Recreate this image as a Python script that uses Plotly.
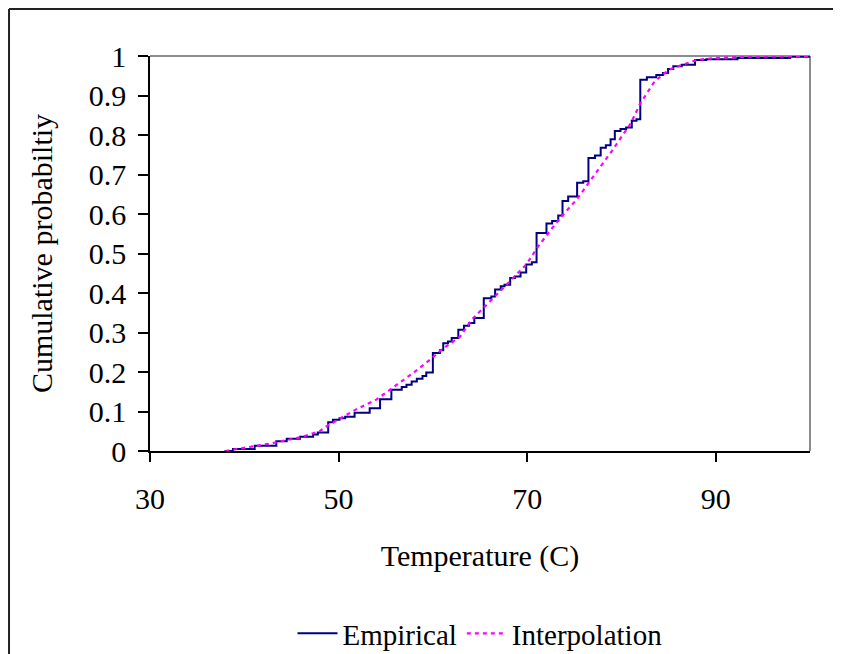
import plotly.graph_objects as go

# Empirical CDF step points (temperature where the step occurs, new level)
emp_temp = [37.9, 38.8, 41.1, 43.4, 44.5, 45.9, 47.3, 47.8, 48.9, 49.4,
            50.1, 50.7, 51.7, 53.3, 54.4, 55.6, 56.7, 57.2, 57.75, 58.3,
            58.9, 59.3, 60.0, 60.75, 61.1, 61.6, 62.0, 62.7, 63.3, 63.85,
            64.4, 65.4, 66.2, 66.6, 67.2, 67.6, 68.2, 68.7, 69.3, 69.9,
            70.5, 71.0, 72.05, 72.65, 73.3, 73.75, 74.35, 75.3, 75.95, 76.5,
            77.2, 77.8, 78.35, 78.85, 79.3, 79.9, 80.5, 81.1, 81.6, 82.0,
            82.7, 83.7, 84.4, 84.95, 85.5, 86.4, 87.8, 89.0, 92.3, 97.9,
            100.0]
emp_prob = [0.0, 0.005, 0.013, 0.025, 0.031, 0.036, 0.042, 0.047, 0.073, 0.079,
            0.083, 0.087, 0.097, 0.108, 0.131, 0.155, 0.162, 0.168, 0.176, 0.183,
            0.190, 0.199, 0.248, 0.255, 0.273, 0.277, 0.286, 0.307, 0.317, 0.324,
            0.337, 0.387, 0.391, 0.409, 0.417, 0.421, 0.438, 0.442, 0.452, 0.472,
            0.478, 0.552, 0.576, 0.582, 0.596, 0.633, 0.644, 0.679, 0.683, 0.742,
            0.748, 0.768, 0.774, 0.789, 0.810, 0.815, 0.819, 0.836, 0.840, 0.940,
            0.946, 0.952, 0.957, 0.967, 0.974, 0.978, 0.990, 0.992, 0.995, 0.998,
            0.998]

# Interpolated CDF
int_temp = [38, 40, 43, 46, 48, 48.7, 50, 51.9, 54, 55.45, 56.5, 58.1, 59.9,
            60.9, 62.9, 64.1, 66.4, 68, 69.9, 71.2, 73.5, 75.2, 76.65, 79, 81,
            82, 83.5, 85, 86.5, 88, 90, 93, 96, 100]
int_prob = [0.0, 0.008, 0.02, 0.035, 0.05, 0.062, 0.08, 0.106, 0.13, 0.155,
            0.175, 0.201, 0.235, 0.256, 0.29, 0.332, 0.387, 0.425, 0.472, 0.519,
            0.59, 0.635, 0.683, 0.76, 0.83, 0.88, 0.935, 0.965, 0.978, 0.99,
            0.995, 0.998, 0.999, 1.0]

x_ticks = [30, 50, 70, 90]

FONT = "Liberation Serif, Times New Roman, serif"

fig = go.Figure()
fig.add_trace(go.Scatter(x=emp_temp, y=emp_prob, mode="lines", name="Empirical",
                         line=dict(color="#000080", width=2, shape="hv")))
fig.add_trace(go.Scatter(x=int_temp, y=int_prob, mode="lines", name="Interpolation",
                         line=dict(color="#FF00FF", width=2.2, dash="4px,4px")))

fig.update_layout(
    width=841, height=654,
    margin=dict(l=142, r=39, t=48, b=211, autoexpand=False),
    paper_bgcolor="white", plot_bgcolor="white",
    font=dict(family=FONT, size=30, color="black"),
    showlegend=True,
    legend=dict(orientation="h", x=0.5, xanchor="center", y=-0.462, yanchor="middle",
                font=dict(family=FONT, size=29), bgcolor="rgba(0,0,0,0)",
                itemwidth=40, tracegroupgap=0),
    xaxis=dict(range=[30, 100], tickvals=x_ticks, showgrid=False, zeroline=False,
               showline=True, linecolor="black", linewidth=1.5,
               ticks="outside", ticklen=9, tickcolor="black", tickwidth=1.5,
               ticklabelstandoff=11, automargin=False,
               tickfont=dict(family=FONT, size=30),
               title=dict(text="Temperature (C)", font=dict(family=FONT, size=30), standoff=31)),
    yaxis=dict(range=[0, 1], dtick=0.1, tick0=0, showgrid=False, zeroline=False,
               showline=True, linecolor="black", linewidth=1.5,
               ticks="outside", ticklen=10, tickcolor="black", tickwidth=1.5,
               ticklabelstandoff=6, automargin=False,
               tickfont=dict(family=FONT, size=30),
               title=dict(text="Cumulative probabiltiy", font=dict(family=FONT, size=30), standoff=27)),
    shapes=[
        dict(type="line", xref="paper", yref="paper", x0=0, x1=1, y0=1, y1=1,
             line=dict(color="#8c8c8c", width=2), layer="below"),
        dict(type="line", xref="paper", yref="paper", x0=1, x1=1, y0=0, y1=1,
             line=dict(color="#8c8c8c", width=2), layer="below"),
        # outer chart frame (top and left edges visible)
        dict(type="line", xref="paper", yref="paper", x0=-0.2136, x1=-0.2136, y0=-0.6, y1=1.119,
             line=dict(color="#222222", width=2)),
        dict(type="line", xref="paper", yref="paper", x0=-0.2136, x1=1.1, y0=1.119, y1=1.119,
             line=dict(color="#222222", width=2)),
    ],
)

fig.write_html("out.html")
